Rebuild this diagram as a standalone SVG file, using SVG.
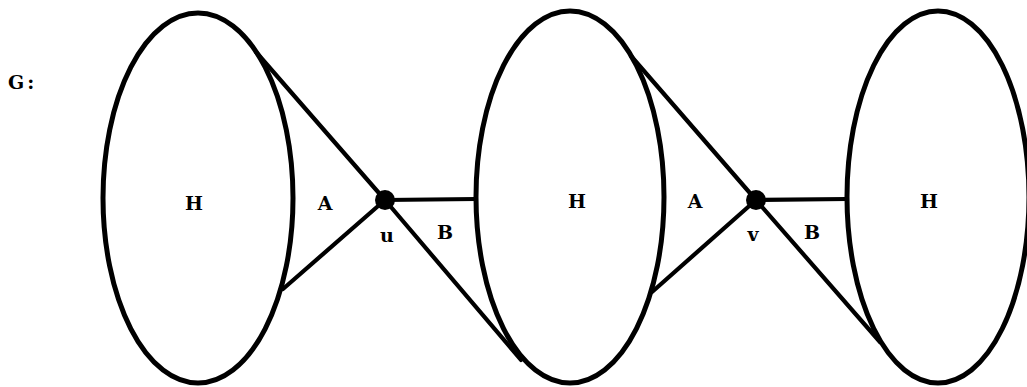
<svg xmlns="http://www.w3.org/2000/svg" width="1027" height="387" viewBox="0 0 1027 387">
<style>
.blob{fill:none;stroke:#000;stroke-width:5}
.edge{fill:none;stroke:#000;stroke-width:4.2;stroke-linecap:round}
.vert{fill:#000}
.lbl{font-family:"DejaVu Serif","Liberation Serif",serif;font-weight:bold;font-size:19px;fill:#000;text-anchor:middle}
</style>
<rect width="1027" height="387" fill="#fff"/>
<text class="lbl" x="8" y="89" style="text-anchor:start;letter-spacing:3px">G:</text>
<g id="connectors">
<path class="edge" d="M385,200 L256,52"/>
<path class="edge" d="M385,200 L283,289"/>
<path class="edge" d="M385,200 L476,199"/>
<path class="edge" d="M385,200 L521,360"/>
<path class="edge" d="M756,200 L631,56"/>
<path class="edge" d="M756,200 L652,292"/>
<path class="edge" d="M756,200 L847,199"/>
<path class="edge" d="M756,200 L880,342"/>
</g>
<g id="H1"><ellipse class="blob" cx="198" cy="198" rx="95" ry="185"/><text class="lbl" x="194" y="210">H</text></g>
<g id="H2"><ellipse class="blob" cx="570" cy="197" rx="94" ry="186"/><text class="lbl" x="577" y="208">H</text></g>
<g id="H3"><ellipse class="blob" cx="938" cy="197" rx="91" ry="186"/><text class="lbl" x="929" y="208">H</text></g>
<g id="u"><circle class="vert" cx="385" cy="200" r="10"/><text class="lbl" x="387" y="242">u</text></g>
<g id="v"><circle class="vert" cx="756" cy="200" r="10"/><text class="lbl" x="753" y="241">v</text></g>
<g id="labels">
<text class="lbl" x="325" y="210">A</text>
<text class="lbl" x="445" y="239">B</text>
<text class="lbl" x="695" y="208">A</text>
<text class="lbl" x="812" y="239">B</text>
</g>
</svg>
